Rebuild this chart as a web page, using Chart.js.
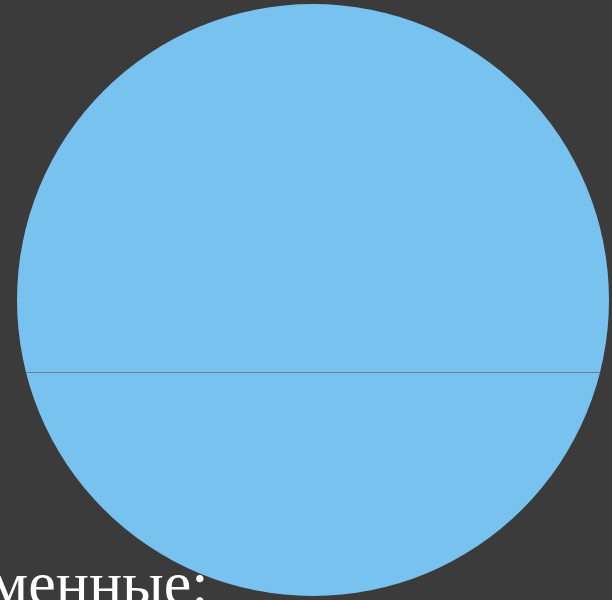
<!DOCTYPE html>
<html>
<head>
<meta charset="utf-8">
<script src="https://cdn.jsdelivr.net/npm/chart.js@4"></script>
<style>
  html, body { margin: 0; padding: 0; background: #3b3b3b; width: 612px; height: 600px; overflow: hidden; }
  #wrap { position: absolute; left: 0; top: 0; width: 612px; height: 600px; }
  #caption { position: absolute; left: -11px; top: 552px; font-family: "Liberation Serif", "DejaVu Serif", serif; font-size: 62px; line-height: 62px; color: #ffffff; white-space: nowrap; }
</style>
</head>
<body>
<div id="wrap"><canvas id="c" width="612" height="600"></canvas></div>
<div id="caption">менные:</div>
<script>
const categories = ["Переменные"];
const values = [1];
const chordFraction = 0.243; // relative offset of the thin chord line below centre

const chordPlugin = {
  id: 'chord',
  afterDatasetsDraw(chart) {
    const arc = chart.getDatasetMeta(0).data[0];
    if (!arc) return;
    const r = arc.outerRadius, cx = arc.x, cy = arc.y;
    const dy = r * chordFraction;
    const dx = Math.sqrt(r * r - dy * dy);
    const ctx = chart.ctx;
    ctx.save();
    ctx.strokeStyle = '#6c8090';
    ctx.lineWidth = 1;
    ctx.beginPath();
    ctx.moveTo(cx - dx, Math.round(cy + dy) + 0.5);
    ctx.lineTo(cx + dx, Math.round(cy + dy) + 0.5);
    ctx.stroke();
    ctx.restore();
  }
};

new Chart(document.getElementById('c'), {
  type: 'pie',
  data: {
    labels: categories,
    datasets: [{ data: values, backgroundColor: ['#78c2ef'], borderWidth: 0 }]
  },
  options: {
    responsive: false,
    animation: false,
    layout: { padding: { top: 4, bottom: 4, left: 14, right: 0 } },
    plugins: { legend: { display: false }, tooltip: { enabled: false } }
  },
  plugins: [chordPlugin]
});
</script>
</body>
</html>
